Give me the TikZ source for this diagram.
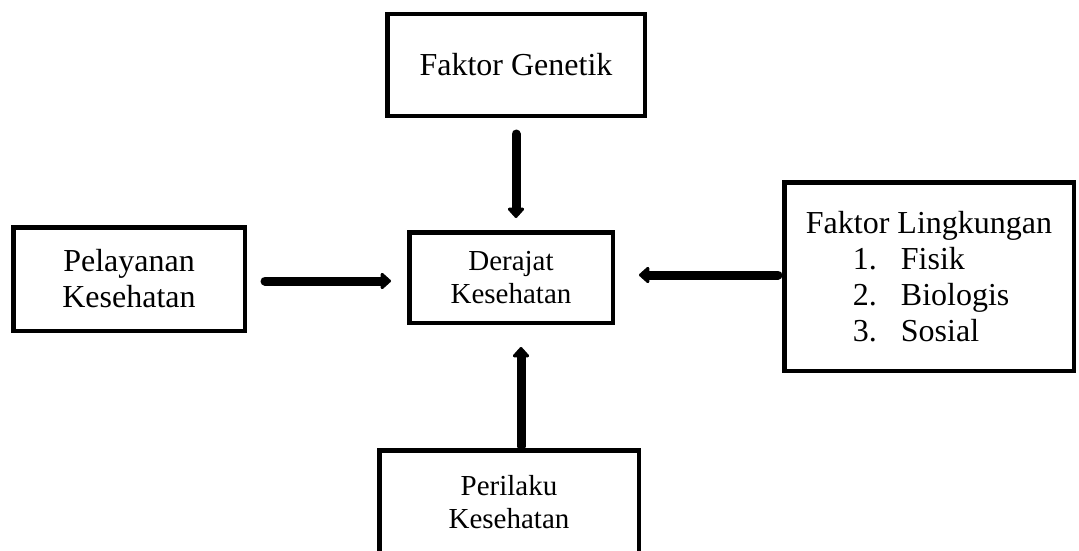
\documentclass[tikz,border=0pt]{standalone}
\usepackage{fontspec}
\setmainfont{Liberation Serif}
\usetikzlibrary{arrows.meta,calc}
\begin{document}
\begin{tikzpicture}[x=1pt,y=-1pt,
  box/.style={draw=black,line width=4.5pt,rectangle,inner sep=0pt,align=center,font=\fontsize{32}{36}\selectfont},
  smallbox/.style={box,font=\fontsize{29}{33}\selectfont},
  arr/.style={line width=9pt,line cap=round,-{Triangle[width=19pt,length=11pt,round]}}]
\useasboundingbox[fill=white] (0,0) rectangle (1079,551);
\node[box,minimum width=257.5pt,minimum height=101.5pt] (gen) at (516,65) {Faktor Genetik};
\node[smallbox,minimum width=203.5pt,minimum height=90.5pt] (der) at (511,277.5) {Derajat\\Kesehatan};
\node[box,minimum width=231.5pt,minimum height=103.5pt] (pel) at (129,279) {Pelayanan\\Kesehatan};
\node[box,align=left,minimum width=289.5pt,minimum height=188.5pt] (lin) at (929,276.5)
  {Faktor Lingkungan\\
   \hspace*{47pt}\makebox[48pt][l]{1.}Fisik\\
   \hspace*{47pt}\makebox[48pt][l]{2.}Biologis\\
   \hspace*{47pt}\makebox[48pt][l]{3.}Sosial};
\node[smallbox,minimum width=259.5pt,minimum height=103pt] (per) at (509,502) {Perilaku\\Kesehatan};
\draw[arr,shorten <=16pt,shorten >=12pt] (gen.south) -- (gen.south |- der.north);
\draw[arr,shorten <=18pt,shorten >=16pt] ($(pel.east)+(0,2)$) -- ($(der.west |- pel.east)+(0,2)$);
\draw[arr,shorten <=4pt,shorten >=24pt] ($(lin.west)+(0,-1.5)$) -- ($(der.east |- lin.west)+(0,-1.5)$);
\draw[arr,shorten <=2pt,shorten >=22pt] ($(per.north)+(12,0)$) -- ($(per.north |- der.south)+(12,0)$);
\end{tikzpicture}
\end{document}
